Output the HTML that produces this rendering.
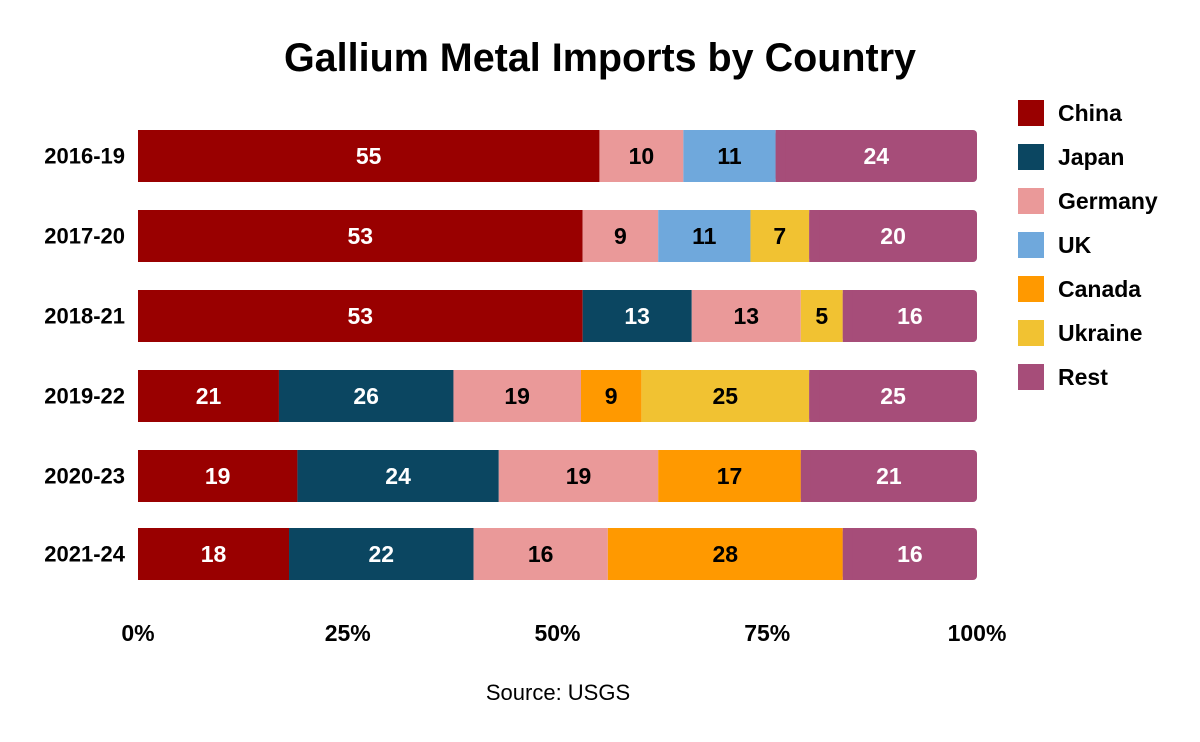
<!DOCTYPE html>
<html><head><meta charset="utf-8"><style>
html,body{margin:0;padding:0;background:#fff;}
svg{display:block;font-family:"Liberation Sans",Arial,sans-serif;}
.v{font-size:23px;font-weight:bold;text-anchor:middle;dominant-baseline:central;}
.w{fill:#fff}.k{fill:#000}
.y{font-size:22px;font-weight:bold;text-anchor:end;dominant-baseline:central;}
.x{font-size:23px;font-weight:bold;text-anchor:middle;}
.l{font-size:23px;font-weight:bold;dominant-baseline:central;}
</style></head><body>
<svg width="1200" height="742" viewBox="0 0 1200 742">
<rect width="1200" height="742" fill="#fff"/>
<text x="600" y="71" font-size="39.5" font-weight="bold" text-anchor="middle">Gallium Metal Imports by Country</text>

<!-- Row1 -->
<rect x="775.64" y="130" width="201.36" height="52" rx="4" fill="#a64d79"/>
<rect x="138" y="130" width="461.45" height="52" fill="#990000"/>
<rect x="599.45" y="130" width="83.9" height="52" fill="#ea9999"/>
<rect x="683.35" y="130" width="92.29" height="52" fill="#6fa8dc"/>
<rect x="775.64" y="130" width="10" height="52" fill="#a64d79"/>
<text class="v w" x="368.7" y="156">55</text><text class="v k" x="641.4" y="156">10</text><text class="v k" x="729.5" y="156">11</text><text class="v w" x="876.3" y="156">24</text>
<!-- Row2 -->
<rect x="809.2" y="210" width="167.8" height="52" rx="4" fill="#a64d79"/>
<rect x="138" y="210" width="444.67" height="52" fill="#990000"/>
<rect x="582.67" y="210" width="75.51" height="52" fill="#ea9999"/>
<rect x="658.18" y="210" width="92.29" height="52" fill="#6fa8dc"/>
<rect x="750.47" y="210" width="58.73" height="52" fill="#f1c232"/>
<rect x="809.2" y="210" width="10" height="52" fill="#a64d79"/>
<text class="v w" x="360.3" y="236">53</text><text class="v k" x="620.4" y="236">9</text><text class="v k" x="704.3" y="236">11</text><text class="v k" x="779.8" y="236">7</text><text class="v w" x="893.1" y="236">20</text>
<!-- Row3 -->
<rect x="842.76" y="290" width="134.24" height="52" rx="4" fill="#a64d79"/>
<rect x="138" y="290" width="444.67" height="52" fill="#990000"/>
<rect x="582.67" y="290" width="109.07" height="52" fill="#0b4661"/>
<rect x="691.74" y="290" width="109.07" height="52" fill="#ea9999"/>
<rect x="800.81" y="290" width="41.95" height="52" fill="#f1c232"/>
<rect x="842.76" y="290" width="10" height="52" fill="#a64d79"/>
<text class="v w" x="360.3" y="316">53</text><text class="v w" x="637.2" y="316">13</text><text class="v k" x="746.3" y="316">13</text><text class="v k" x="821.8" y="316">5</text><text class="v w" x="909.9" y="316">16</text>
<!-- Row4 -->
<rect x="809.2" y="370" width="167.8" height="52" rx="4" fill="#a64d79"/>
<rect x="138" y="370" width="140.95" height="52" fill="#990000"/>
<rect x="278.95" y="370" width="174.51" height="52" fill="#0b4661"/>
<rect x="453.46" y="370" width="127.53" height="52" fill="#ea9999"/>
<rect x="580.99" y="370" width="60.41" height="52" fill="#ff9900"/>
<rect x="641.4" y="370" width="167.8" height="52" fill="#f1c232"/>
<rect x="809.2" y="370" width="10" height="52" fill="#a64d79"/>
<text class="v w" x="208.5" y="396">21</text><text class="v w" x="366.2" y="396">26</text><text class="v k" x="517.2" y="396">19</text><text class="v k" x="611.2" y="396">9</text><text class="v k" x="725.3" y="396">25</text><text class="v w" x="893.1" y="396">25</text>
<!-- Row5 -->
<rect x="800.81" y="450" width="176.19" height="52" rx="4" fill="#a64d79"/>
<rect x="138" y="450" width="159.41" height="52" fill="#990000"/>
<rect x="297.41" y="450" width="201.36" height="52" fill="#0b4661"/>
<rect x="498.77" y="450" width="159.41" height="52" fill="#ea9999"/>
<rect x="658.18" y="450" width="142.63" height="52" fill="#ff9900"/>
<rect x="800.81" y="450" width="10" height="52" fill="#a64d79"/>
<text class="v w" x="217.7" y="476">19</text><text class="v w" x="398.1" y="476">24</text><text class="v k" x="578.5" y="476">19</text><text class="v k" x="729.5" y="476">17</text><text class="v w" x="888.9" y="476">21</text>
<!-- Row6 -->
<rect x="842.76" y="528" width="134.24" height="52" rx="4" fill="#a64d79"/>
<rect x="138" y="528" width="151.02" height="52" fill="#990000"/>
<rect x="289.02" y="528" width="184.58" height="52" fill="#0b4661"/>
<rect x="473.6" y="528" width="134.24" height="52" fill="#ea9999"/>
<rect x="607.84" y="528" width="234.92" height="52" fill="#ff9900"/>
<rect x="842.76" y="528" width="10" height="52" fill="#a64d79"/>
<text class="v w" x="213.5" y="554">18</text><text class="v w" x="381.3" y="554">22</text><text class="v k" x="540.7" y="554">16</text><text class="v k" x="725.3" y="554">28</text><text class="v w" x="909.9" y="554">16</text>

<text class="y" x="125" y="156">2016-19</text>
<text class="y" x="125" y="236">2017-20</text>
<text class="y" x="125" y="316">2018-21</text>
<text class="y" x="125" y="396">2019-22</text>
<text class="y" x="125" y="476">2020-23</text>
<text class="y" x="125" y="554">2021-24</text>

<text class="x" x="138" y="641">0%</text>
<text class="x" x="347.75" y="641">25%</text>
<text class="x" x="557.5" y="641">50%</text>
<text class="x" x="767.25" y="641">75%</text>
<text class="x" x="977" y="641">100%</text>

<text x="558" y="700" font-size="22" text-anchor="middle">Source: USGS</text>

<rect x="1018" y="100" width="26" height="26" fill="#990000"/><text class="l" x="1058" y="113">China</text>
<rect x="1018" y="144" width="26" height="26" fill="#0b4661"/><text class="l" x="1058" y="157">Japan</text>
<rect x="1018" y="188" width="26" height="26" fill="#ea9999"/><text class="l" x="1058" y="201">Germany</text>
<rect x="1018" y="232" width="26" height="26" fill="#6fa8dc"/><text class="l" x="1058" y="245">UK</text>
<rect x="1018" y="276" width="26" height="26" fill="#ff9900"/><text class="l" x="1058" y="289">Canada</text>
<rect x="1018" y="320" width="26" height="26" fill="#f1c232"/><text class="l" x="1058" y="333">Ukraine</text>
<rect x="1018" y="364" width="26" height="26" fill="#a64d79"/><text class="l" x="1058" y="377">Rest</text>
</svg>
</body></html>
